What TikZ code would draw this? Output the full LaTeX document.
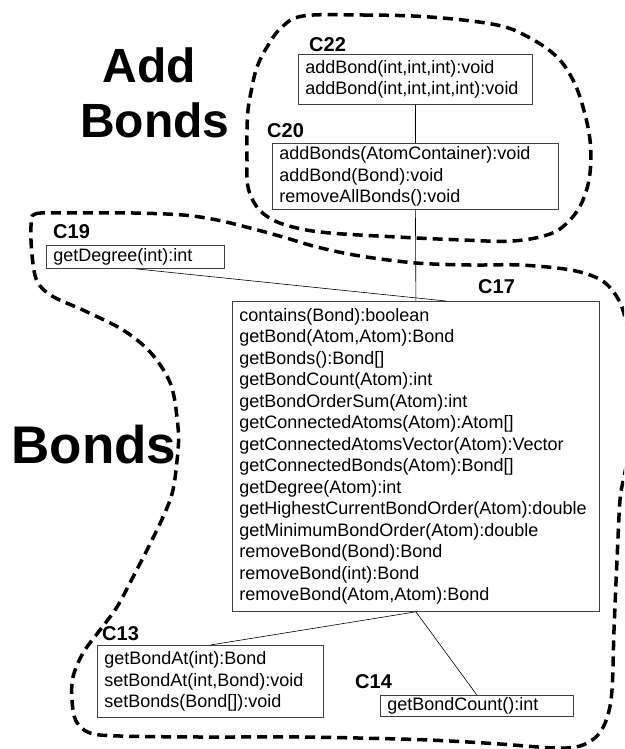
\documentclass[tikz,border=0pt]{standalone}
\usepackage{fontspec}
\setmainfont{Liberation Sans}
\begin{document}
\begin{tikzpicture}[x=1pt,y=-1pt,
  method/.style={draw=black!75, line width=0.8pt, rectangle, anchor=north west,
    inner xsep=7pt, inner ysep=0pt, align=left,
    font=\fontsize{18}{21.5}\selectfont},
  tag/.style={anchor=base west, inner sep=0pt, font=\fontsize{20}{22}\selectfont\bfseries},
  biglabel/.style={anchor=base, inner sep=0pt, font=\fontsize{#1}{#1}\selectfont\bfseries},
  link/.style={draw=black, line width=0.6pt},
  region/.style={draw=black, line width=3.5pt, dash pattern=on 10pt off 6pt}]
\useasboundingbox (0,0) rectangle (624,749);
\clip (0,0) rectangle (624,749);

% group outlines
\draw[region] plot[smooth cycle, tension=0.6] coordinates {
  (303,16) (363,15) (430,17) (497,25) (530,38) (557,57) (573,80) (583,107)
  (590,140) (590,173) (583,200) (570,220) (550,234) (513,241) (463,240)
  (397,237) (330,233) (297,228) (273,220) (257,207) (248,187) (247,160)
  (247,133) (248,110) (252,87) (257,67) (267,47) (281,28)};
\draw[region] plot[smooth cycle, tension=0.55] coordinates {
  (31,226) (35,214) (67,213) (133,213) (183,215) (217,220) (250,228)
  (283,237) (317,247) (360,256) (416,263) (470,265) (520,265) (571,270)
  (601,280) (617,297) (625,318) (631,360) (633,400) (631,440) (624,477)
  (620,500) (617,560) (614,630) (612,690) (607,718) (597,736) (580,746)
  (555,748) (500,744) (450,741) (400,739) (300,737) (200,737) (120,736)
  (90,733) (76,721) (72,700) (73,677) (83,653) (100,630) (117,607)
  (133,577) (148,548) (163,517) (173,490) (178,450) (178,427) (171,385)
  (151,353) (123,330) (85,311) (52,296) (37,281) (32,255)};

% group titles
\node[biglabel=48] (addlbl) at (149,83) {Add};
\node[biglabel=48] (bondslbl) at (155,137) {Bonds};
\node[biglabel=53] (bondsgroup) at (94,463) {Bonds};

% classes
\node[method, text width=220pt, minimum height=50pt] (c22) at (298,54)
  {addBond(int,int,int):void\\addBond(int,int,int,int):void};
\node[method, text width=272pt, minimum height=66pt] (c20) at (272,143)
  {addBonds(AtomContainer):void\\addBond(Bond):void\\removeAllBonds():void};
\node[method, text width=164pt, minimum height=23pt] (c19) at (46,245)
  {getDegree(int):int};
\node[method, text width=353pt, minimum height=310pt] (c17) at (232,301)
  {contains(Bond):boolean\\
   getBond(Atom,Atom):Bond\\
   getBonds():Bond[]\\
   getBondCount(Atom):int\\
   getBondOrderSum(Atom):int\\
   getConnectedAtoms(Atom):Atom[]\\
   getConnectedAtomsVector(Atom):Vector\\
   getConnectedBonds(Atom):Bond[]\\
   getDegree(Atom):int\\
   getHighestCurrentBondOrder(Atom):double\\
   getMinimumBondOrder(Atom):double\\
   removeBond(Bond):Bond\\
   removeBond(int):Bond\\
   removeBond(Atom,Atom):Bond};
\node[method, text width=212pt, minimum height=72pt] (c13) at (97,645)
  {getBondAt(int):Bond\\setBondAt(int,Bond):void\\setBonds(Bond[]):void};
\node[method, text width=179pt, minimum height=21pt] (c14) at (380,695)
  {getBondCount():int};

% class names
\node[tag] (t22) at (309,52) {C22};
\node[tag] (t20) at (267,137) {C20};
\node[tag] (t19) at (53,238) {C19};
\node[tag] (t17) at (478,293) {C17};
\node[tag] (t13) at (102,640) {C13};
\node[tag] (t14) at (355,688) {C14};

% connectors
\draw[link] (c22.south) -- (c20.north);
\draw[link] (c20.south) -- (c17.north);
\draw[link] (c19.south) -- ([xshift=214pt]c17.north west);
\draw[link] (c17.south) -- (c13.north);
\draw[link] (c17.south) -- (c14.north);
\end{tikzpicture}
\end{document}
